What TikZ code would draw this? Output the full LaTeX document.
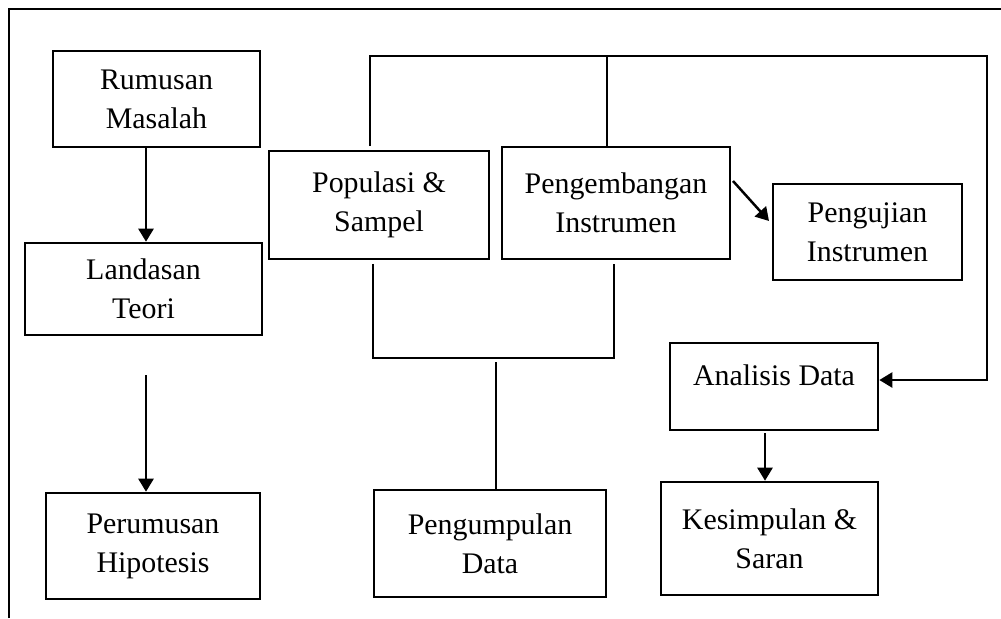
\documentclass[tikz,border=0pt]{standalone}
\usepackage{fontspec}
\setmainfont{Liberation Serif}
\usetikzlibrary{arrows.meta}

\begin{document}
\begin{tikzpicture}[x=0.01cm,y=-0.01cm]
        \tikzset{
          box/.style={draw,line width=0.25mm,align=center,inner sep=0mm,
            font=\fontsize{8.5}{11.1}\selectfont},
          arr/.style={line width=0.25mm,-{Triangle[length=1.3mm,width=1.5mm]}},
          link/.style={line width=0.25mm},
          frame/.style={line width=0.2mm}
        }
        \useasboundingbox (0,0) rectangle (1001,618);

        %FRAME
        \draw[frame] (9,618) -- (9,9) -- (1001,9);

        %LEFT COLUMN
        \node[box,minimum width=2.07cm,minimum height=0.96cm] (rm) at (156.5,99) {Rumusan\\Masalah};
        \node[box,minimum width=2.37cm,minimum height=0.92cm] (lt) at (143.5,289) {Landasan\\Teori};
        \node[box,minimum width=2.14cm,minimum height=1.06cm] (ph) at (153,546) {Perumusan\\Hipotesis};

        %MIDDLE
        \node[box,minimum width=2.20cm,minimum height=1.08cm] (ps) at (379,205) {Populasi \&\\Sampel};
        \node[box,minimum width=2.28cm,minimum height=1.12cm] (pi) at (616,203) {Pengembangan\\Instrumen};
        \node[box,minimum width=2.32cm,minimum height=1.07cm] (pd) at (490,543.5) {Pengumpulan\\Data};

        %RIGHT
        \node[box,minimum width=1.89cm,minimum height=0.96cm] (pu) at (867.5,232) {Pengujian\\Instrumen};
        \node[box,minimum width=2.08cm,minimum height=0.87cm,text depth=6.5pt] (ad) at (774,386.5) {Analisis Data};
        \node[box,minimum width=2.17cm,minimum height=1.13cm] (ks) at (769.5,538.5) {Kesimpulan \&\\Saran};

        \coordinate (cl) at (146,375);
        \coordinate (tl) at (370,56);
        \coordinate (tm) at (607,56);
        \coordinate (tr) at (987,56);
        \coordinate (br) at (987,380);
        \coordinate (bl) at (373,358);
        \coordinate (bk) at (614,358);
        \coordinate (bm) at (496,362);
        \coordinate (s1) at (733,181);
        \coordinate (e1) at (769,221);
        \coordinate (cr) at (765,433);

        \draw[arr] (rm.south -| cl) -- (lt.north -| cl);
        \draw[arr] (cl) -- (ph.north -| cl);

        %TOP LOOP
        \draw[arr] ([yshift=1pt]ps.north -| tl) -- (tl) -- (tr) -- (br) -- (br -| ad.east);
        \draw[link] (pi.north -| tm) -- (tm);

        %BRACKET
        \draw[link] ([yshift=-1pt]ps.south -| bl) -- (bl) -- (bk) -- ([yshift=-1pt]pi.south -| bk);
        \draw[link] (bm) -- (pd.north -| bm);

        \draw[arr] (s1) -- (e1);
        \draw[arr] (cr) -- (ks.north -| cr);
    \end{tikzpicture}
\end{document}
